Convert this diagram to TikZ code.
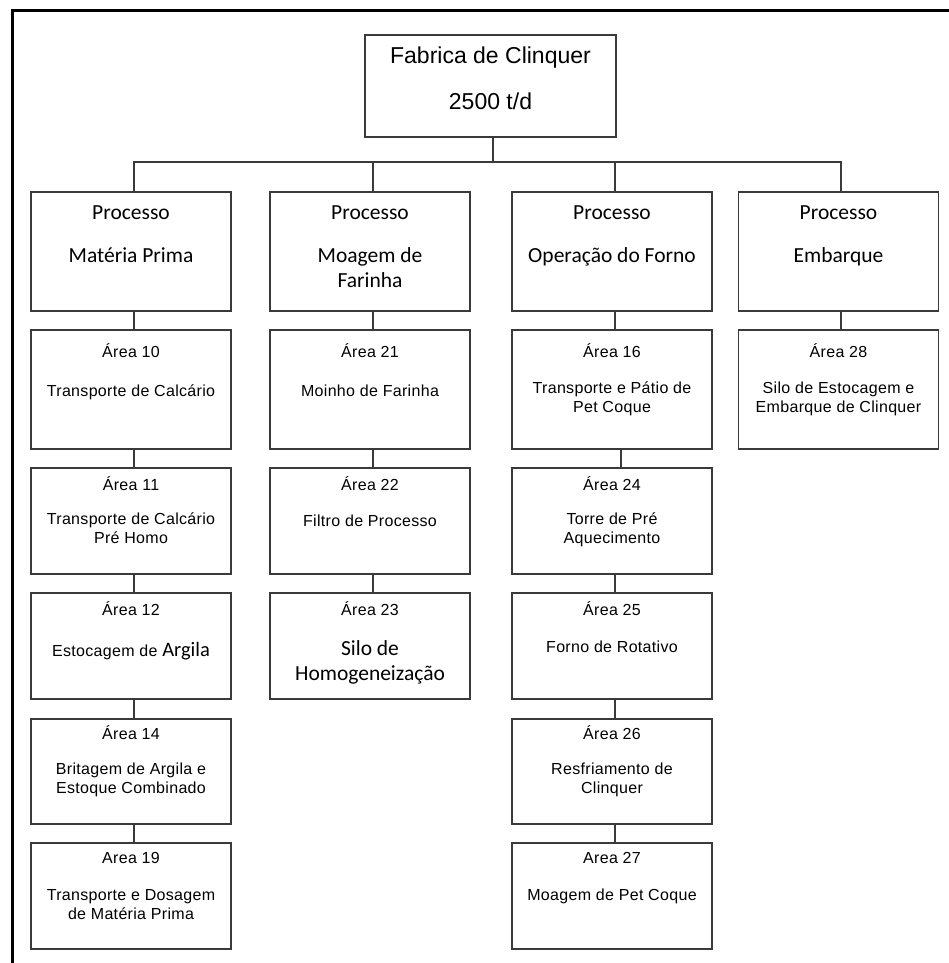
\documentclass[tikz,border=0pt]{standalone}
\usepackage{fontspec}
\newfontfamily\arialf{Liberation Sans}
\newfontfamily\arialsp[LetterSpace=2]{Liberation Sans}
\newfontfamily\calf{Carlito}
\definecolor{boxline}{HTML}{3A3A3A}
\tikzset{
  box/.style={draw=boxline, line width=1.2pt, rectangle, inner sep=0pt, minimum width=200pt},
  conn/.style={draw=boxline, line width=1.2pt},
  frame/.style={draw=black, line width=3pt},
  ttl/.style={anchor=base, inner sep=0pt, font=\arialf\fontsize{23}{27}\selectfont},
  proc/.style={anchor=base, inner sep=0pt, font=\calf\fontsize{21.5}{25}\selectfont},
  area/.style={anchor=base, inner sep=0pt, font=\arialsp\fontsize{16}{19}\selectfont},
}
\newcommand{\bigcal}[1]{{\calf\fontsize{20.5}{24}\selectfont #1}}
\begin{document}
\begin{tikzpicture}[x=1pt,y=-1pt]
\useasboundingbox (0,0) rectangle (949,963);
\fill[white] (0,0) rectangle (949,963);
% frame
\draw[frame] (12,970) -- (12,11) -- (960,11);

% top box
\node[box, minimum width=251pt, minimum height=102pt] (top) at (490.5,86) {};
\node[ttl] (t1) at (490.5,63.3) {Fabrica de Clinquer};
\node[ttl] (t2) at (490.5,110) {2500 t/d};

% process boxes
\foreach \n/\x in {p1/131, p2/370, p3/612, p4/838.5}
  \node[box, minimum height=119pt] (\n) at (\x,251.5) {};
\node[proc] (p1a) at (131,219.5) {Processo};
\node[proc] (p1b) at (131,262) {Matéria Prima};
\node[proc] (p2a) at (370,219.5) {Processo};
\node[proc] (p2b) at (370,262) {Moagem de};
\node[proc] (p2c) at (370,287) {Farinha};
\node[proc] (p3a) at (612,219.5) {Processo};
\node[proc] (p3b) at (612,262) {Operação do Forno};
\node[proc] (p4a) at (838.5,219.5) {Processo};
\node[proc] (p4b) at (838.5,262) {Embarque};

% row 1 areas
\foreach \n/\x in {a10/131, a21/370, a16/612, a28/838.5}
  \node[box, minimum height=119pt] (\n) at (\x,389.5) {};
\node[area] (a10t) at (131,357.3) {Área 10};
\node[area] (a10d) at (131,396) {Transporte de Calcário};
\node[area] (a21t) at (370,357.3) {Área 21};
\node[area] (a21d) at (370,396) {Moinho de Farinha};
\node[area] (a16t) at (612,357.3) {Área 16};
\node[area] (a16d) at (612,393.3) {Transporte e Pátio de};
\node[area] (a16e) at (612,412.3) {Pet Coque};
\node[area] (a28t) at (838.5,357.3) {Área 28};
\node[area] (a28d) at (838.5,393.3) {Silo de Estocagem e};
\node[area] (a28e) at (838.5,412.3) {Embarque de Clinquer};

% row 2 areas
\foreach \n/\x in {a11/131, a22/370, a24/612}
  \node[box, minimum height=106pt] (\n) at (\x,521) {};
\node[area] (a11t) at (131,490) {Área 11};
\node[area] (a11d) at (131,524) {Transporte de Calcário};
\node[area] (a11e) at (131,543.3) {Pré Homo};
\node[area] (a22t) at (370,490) {Área 22};
\node[area] (a22d) at (370,526.7) {Filtro de Processo};
\node[area] (a24t) at (612,490) {Área 24};
\node[area] (a24d) at (612,524) {Torre de Pré};
\node[area] (a24e) at (612,543.3) {Aquecimento};

% row 3 areas
\foreach \n/\x in {a12/131, a23/370, a25/612}
  \node[box, minimum height=106pt] (\n) at (\x,646) {};
\node[area] (a12t) at (131,615) {Área 12};
\node[area] (a12d) at (131,656.7) {Estocagem de \bigcal{Argila}};
\node[area] (a23t) at (370,615) {Área 23};
\node[proc] (a23d) at (370,655) {Silo de};
\node[proc] (a23e) at (370,680) {Homogeneização};
\node[area] (a25t) at (612,615) {Área 25};
\node[area] (a25d) at (612,652.7) {Forno de Rotativo};

% row 4 areas
\foreach \n/\x in {a14/131, a26/612}
  \node[box, minimum height=105pt] (\n) at (\x,771.5) {};
\node[area] (a14t) at (131,739.3) {Área 14};
\node[area] (a14d) at (131,774.3) {Britagem de Argila e};
\node[area] (a14e) at (131,793.3) {Estoque Combinado};
\node[area] (a26t) at (612,739.3) {Área 26};
\node[area] (a26d) at (612,774.3) {Resfriamento de};
\node[area] (a26e) at (612,793.3) {Clinquer};

% row 5 areas
\foreach \n/\x in {a19/131, a27/612}
  \node[box, minimum height=106pt] (\n) at (\x,896) {};
\node[area] (a19t) at (131,863.3) {Area 19};
\node[area] (a19d) at (131,900) {Transporte e Dosagem};
\node[area] (a19e) at (131,919) {de Matéria Prima};
\node[area] (a27t) at (612,863.3) {Area 27};
\node[area] (a27d) at (612,900.7) {Moagem de Pet Coque};

% connectors
\coordinate (bus) at (0,162);
\draw[conn] ([xshift=2.5pt]top.south) -- ([xshift=2.5pt]top.south |- bus);
\draw[conn] ([xshift=3pt]p1.north) -- ([xshift=3pt]p1.north |- bus) -| ([xshift=2.5pt]p4.north);
\draw[conn] ([xshift=3pt]p2.north) -- ([xshift=3pt]p2.north |- bus);
\draw[conn] ([xshift=3pt]p3.north) -- ([xshift=3pt]p3.north |- bus);

\draw[conn] ([xshift=3pt]p1.south) -- ([xshift=3pt]a10.north);
\draw[conn] ([xshift=3pt]a10.south) -- ([xshift=3pt]a11.north);
\draw[conn] ([xshift=3pt]a11.south) -- ([xshift=3pt]a12.north);
\draw[conn] ([xshift=3pt]a12.south) -- ([xshift=3pt]a14.north);
\draw[conn] ([xshift=3pt]a14.south) -- ([xshift=3pt]a19.north);

\draw[conn] ([xshift=3pt]p2.south) -- ([xshift=3pt]a21.north);
\draw[conn] ([xshift=3pt]a21.south) -- ([xshift=3pt]a22.north);
\draw[conn] ([xshift=3pt]a22.south) -- ([xshift=3pt]a23.north);

\draw[conn] ([xshift=3pt]p3.south) -- ([xshift=3pt]a16.north);
\draw[conn] ([xshift=9pt]a16.south) -- ([xshift=9pt]a24.north);
\draw[conn] ([xshift=3pt]a24.south) -- ([xshift=3pt]a25.north);
\draw[conn] ([xshift=3pt]a25.south) -- ([xshift=3pt]a26.north);
\draw[conn] ([xshift=3pt]a26.south) -- ([xshift=3pt]a27.north);

\draw[conn] ([xshift=2.5pt]p4.south) -- ([xshift=2.5pt]a28.north);
\end{tikzpicture}
\end{document}
